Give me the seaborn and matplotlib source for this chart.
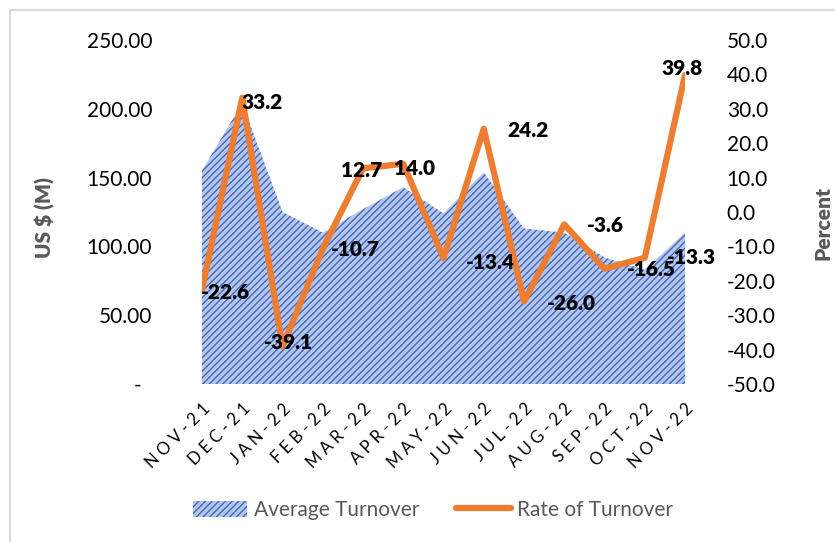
import numpy as np
import pandas as pd
import matplotlib.pyplot as plt
import matplotlib.patches as mpatches
import matplotlib.lines as mlines
import seaborn as sns

sns.set_theme(style="white")
plt.rcParams['font.family'] = ['Lato', 'DejaVu Sans']
plt.rcParams['hatch.linewidth'] = 1.0

# data
months = ['NOV-21', 'DEC-21', 'JAN-22', 'FEB-22', 'MAR-22', 'APR-22', 'MAY-22',
          'JUN-22', 'JUL-22', 'AUG-22', 'SEP-22', 'OCT-22', 'NOV-22']
avg_turnover = [155, 204, 125, 110, 127, 143, 124, 154, 113, 110, 92, 83, 110]
rate_turnover = [-22.6, 33.2, -39.1, -10.7, 12.7, 14.0, -13.4, 24.2, -26.0, -3.6, -16.5, -13.3, 39.8]

# label offsets (pixels) like the excel data labels
label_dx = [23, 20, 6, 33, -1, 11, 47, 44, 47, 41, 47, 47, -3]
label_dy = [-3, -5, 4, -1, -2, -5, -4, -2, -2, -1, -1, 0, 7]

df = pd.DataFrame({'pos': np.arange(len(months)), 'month': months,
                   'avg': avg_turnover, 'rate': rate_turnover})

orange = '#ED7D31'
area_face = '#b4c6ea'
area_hatch = '#4468bf'
grey = '#595959'

fig = plt.figure(figsize=(8.35, 5.42), dpi=100)
ax = fig.add_axes([202 / 835, 1 - 384 / 542, 483 / 835, 344 / 542])

# area (average turnover)
ax.fill_between(df['pos'], df['avg'], facecolor=area_face, edgecolor=area_hatch,
                hatch='/////', linewidth=0)
ax.set_ylim(0, 250)
ax.set_xlim(0, len(months) - 1)
ax.set_yticks(np.arange(0, 251, 50))
ax.set_yticklabels(['-  '] + [f"{v:.2f}" for v in np.arange(50, 251, 50)])
ax.set_xticks(df['pos'])
ax.set_xticklabels([' '.join(m) for m in months], rotation=45, ha='right',
                   rotation_mode='anchor', fontsize=12)
ax.tick_params(axis='y', length=0, pad=36, labelsize=15, colors='black')
ax.tick_params(axis='x', length=0, pad=12, colors='black')
ax.set_ylabel('US $ (M)', fontsize=15, fontweight='heavy', color=grey)
ax.yaxis.set_label_coords(-0.325, 0.483)
ax.yaxis.label.set_va('center')

# line (rate of turnover)
ax2 = ax.twinx()
sns.lineplot(data=df, x='pos', y='rate', ax=ax2, color=orange, lw=4.5,
             legend=False, solid_joinstyle='round')
ax2.set_ylim(-50, 50)
ax2.set_xlim(0, len(months) - 1)
ax2.set_yticks(np.arange(-50, 51, 10))
ax2.set_yticklabels([f"{v:.1f}" for v in np.arange(-50, 51, 10)])
ax2.tick_params(axis='y', length=0, pad=30, labelsize=15, colors='black')
ax2.set_ylabel('Percent', fontsize=15, fontweight='heavy', color=grey)
ax2.yaxis.set_label_coords(1.285, 0.468)
ax2.yaxis.label.set_va('center')
ax2.set_xlabel('')

for i, v in enumerate(rate_turnover):
    ax2.annotate(f"{v:.1f}", (df['pos'][i], v), xytext=(label_dx[i], label_dy[i]),
                 textcoords='offset pixels', ha='center', va='center',
                 fontsize=15, fontweight='heavy', color='black')

for a in (ax, ax2):
    for s in a.spines.values():
        s.set_visible(False)

# legend
h_area = mpatches.Patch(facecolor=area_face, edgecolor=area_hatch, hatch='/////', linewidth=0)
h_line = mlines.Line2D([], [], color=orange, lw=4.5, solid_capstyle='round')
fig.legend([h_area, h_line], ['Average Turnover', 'Rate of Turnover'],
           loc='center', bbox_to_anchor=(433 / 835, 1 - 510 / 542), ncol=2,
           frameon=False, fontsize=15, labelcolor=grey, handlelength=2.6,
           handleheight=0.8, handletextpad=0.3, columnspacing=1.8)

# chart border
fig.add_artist(mpatches.Rectangle((10 / 835, -0.1), 2, 1 - 10 / 542 + 0.1,
                                  transform=fig.transFigure, fill=False,
                                  edgecolor='#d9d9d9', lw=1.5, clip_on=False))

fig.savefig('out.png', dpi=100)
